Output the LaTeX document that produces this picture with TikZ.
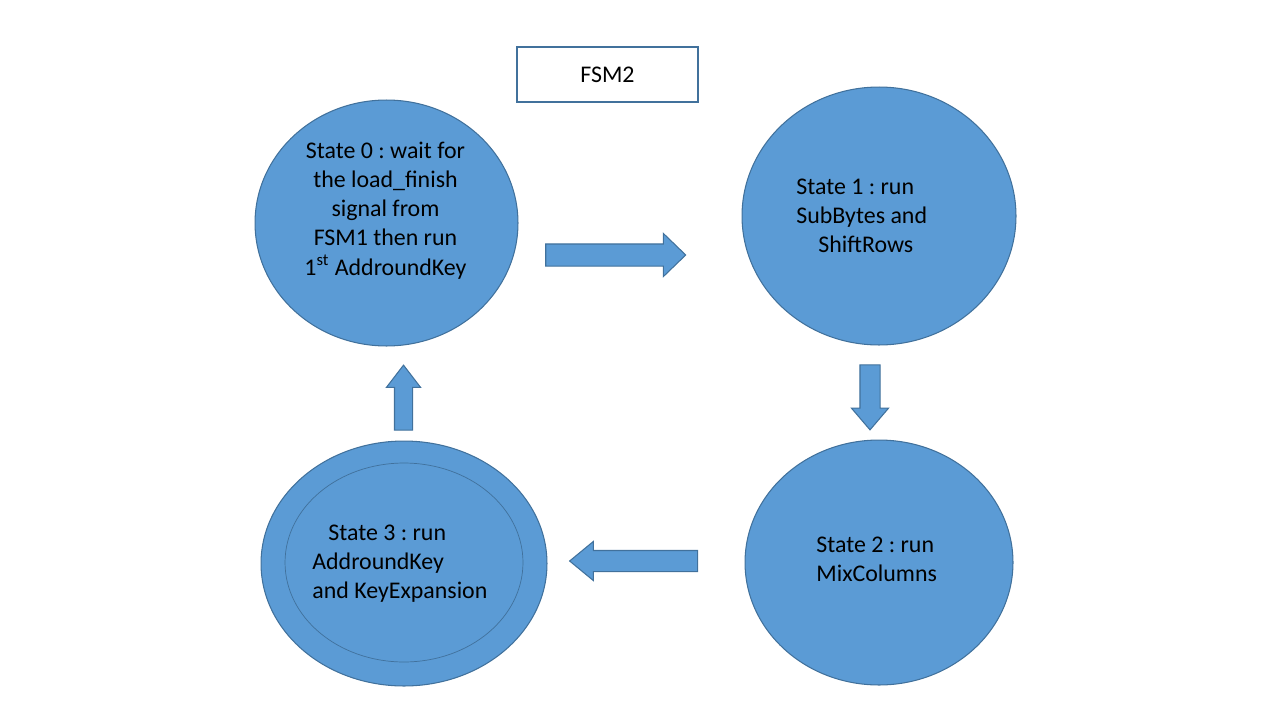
\documentclass[tikz,border=0pt]{standalone}
\usepackage{fontspec}
\setmainfont{Carlito}
\frenchspacing
\usetikzlibrary{shapes.geometric,shapes.arrows}
\definecolor{statefill}{HTML}{5B9BD5}
\definecolor{stateline}{HTML}{41719C}

\begin{document}
\begin{tikzpicture}[x=0.02cm,y=-0.02cm,
    font=\fontsize{13.6}{16.6}\selectfont,
    state node/.style={ellipse,draw=stateline,fill=statefill,line width=0.6pt,inner sep=0pt},
    block arrow/.style={single arrow,draw=stateline,fill=statefill,line width=0.6pt,
        inner xsep=0pt,inner ysep=#1},
    text node/.style={align=left,inner sep=0pt,anchor=west}]

\useasboundingbox (0,0) rectangle (1280,720);

\node[draw=stateline,line width=0.8pt,minimum width=3.62cm,minimum height=1.1cm] (title) at (607.5,74.5) {FSM2};

% states
\node[state node,minimum width=5.26cm,minimum height=4.92cm] (0) at (386.5,223) {};
\node[state node,minimum width=5.48cm,minimum height=5.16cm] (1) at (879,216) {};
\node[state node,minimum width=5.36cm,minimum height=4.9cm] (2) at (879,562.5) {};
\node[state node,minimum width=5.72cm,minimum height=4.9cm] (3) at (404,563.5) {};
\node[ellipse,draw=stateline,line width=0.4pt,minimum width=4.76cm,minimum height=3.98cm] (3in) at (404,562.5) {};

% state texts
\node[align=center,inner sep=0pt] (0t) at (385.5,210.5)
    {State 0 : wait for\\the load\_finish\\signal from\\FSM1 then run\\1\textsuperscript{st} AddroundKey};
\node[text node] (1t) at (796,215.5) {State 1 : run\\SubBytes and\\\hspace*{0.44cm}ShiftRows};
\node[text node] (2t) at (816,559.5) {State 2 : run\\MixColumns};
\node[text node] (3t) at (312,563.5) {\hspace*{0.32cm}State 3 : run\\AddroundKey\\and KeyExpansion};

% block arrows
\node[block arrow=0.21cm,single arrow head extend=0.21cm,single arrow tip angle=88,minimum height=2.8cm] (a01) at (610,255) {};
\node[block arrow=0.19cm,single arrow head extend=0.17cm,single arrow tip angle=81,minimum height=1.3cm,rotate=-90] (a12) at (870,391.5) {};
\node[block arrow=0.2cm,single arrow head extend=0.18cm,single arrow tip angle=79,minimum height=2.56cm,rotate=180] (a23) at (640,561) {};
\node[block arrow=0.17cm,single arrow head extend=0.16cm,single arrow tip angle=75,minimum height=1.3cm,rotate=90] (a30) at (403.5,403.5) {};

\end{tikzpicture}
\end{document}
